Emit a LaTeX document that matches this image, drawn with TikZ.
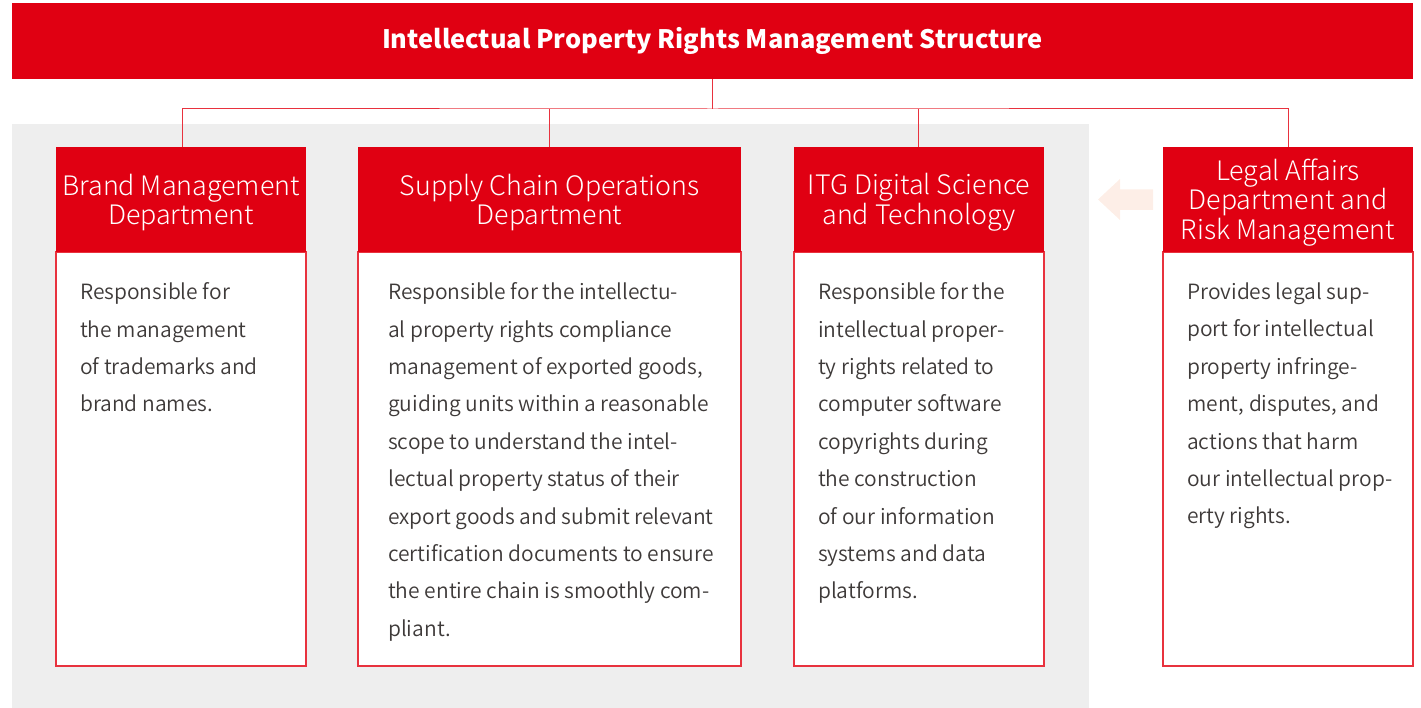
\documentclass[tikz,border=0pt]{standalone}
\usepackage{fontspec}
\setmainfont{Noto Sans CJK SC}
\newfontfamily\lightfont{Noto Sans CJK SC}[UprightFont={* Light}]
\newfontfamily\demifont{Noto Sans CJK SC}[UprightFont={* DemiLight}]
\usetikzlibrary{positioning}
\definecolor{cred}{HTML}{E00012}
\definecolor{cline}{HTML}{E8323E}
\definecolor{cgray}{HTML}{EEEEEE}
\definecolor{carrow}{HTML}{FDEEE7}
\definecolor{ctext}{HTML}{3E3A39}
\tikzset{
  x=1pt, y=-1pt,
  headbox/.style={fill=cred, draw=none, inner sep=0pt, minimum height=105pt},
  headtext/.style={inner sep=0pt, text=white, align=center, font=\lightfont\fontsize{26.8}{29.5}\selectfont},
  bodybox/.style={draw=cline, line width=1.2pt, fill=white},
  bodytext/.style={anchor=north west, inner sep=0pt, align=left, text=ctext, font=\demifont\fontsize{21}{37.4}\selectfont},
  conn/.style={draw=cline, line width=1pt},
}
\begin{document}
\begin{tikzpicture}
\useasboundingbox (0,0) rectangle (1421,708);
\fill[cgray] (12,124) rectangle (1089,708);
% title
\node[fill=cred, minimum width=1401pt, minimum height=76pt, inner sep=0pt, text=white, font=\fontsize{25.4}{30}\selectfont\bfseries] (title) at (712.5,41) {Intellectual Property Rights Management Structure};
% body boxes
\draw[bodybox] (56,252) rectangle (306,666);
\draw[bodybox] (358,252) rectangle (741,666);
\draw[bodybox] (794,252) rectangle (1044,666);
\draw[bodybox] (1163,252) rectangle (1413,666);
% headers
\node[headbox, minimum width=250pt] (h1) at (181,199.5) {};
\node[headbox, minimum width=383pt] (h2) at (549.5,199.5) {};
\node[headbox, minimum width=250pt] (h3) at (919,199.5) {};
\node[headbox, minimum width=250pt] (h4) at (1288,199.5) {};
\node[headtext] (h1t) at (181,202.5) {Brand Management\\Department};
\node[headtext] (h2t) at (549.5,202.5) {Supply Chain Operations\\Department};
\node[headtext] (h3t) at (919,202.5) {ITG Digital Science\\and Technology};
\node[headtext] (h4t) at (1288,202.5) {Legal Affairs\\Department and\\Risk Management};
% connectors
\coordinate (hub) at (712.5,109);
\draw[conn] (title.south) -- (hub);
\draw[conn] ([xshift=1pt]h1.north) |- (hub) -| (h4.north);
\draw[conn] (h2.north) -- (h2.north |- hub);
\draw[conn] ([xshift=-1pt]h3.north) -- ([xshift=-1pt]h3.north |- hub);
% arrow
\fill[carrow] (1098,199.5) -- (1120,179) -- (1120,189.5) -- (1153,189.5) -- (1153,210) -- (1120,210) -- (1120,220) -- cycle;
% body texts
\node[bodytext] (t1) at (80,282.5) {Responsible for\\the management\\of trademarks and\\brand names.};
\node[bodytext] (t2) at (388,282.5) {Responsible for the intellectu-\\al property rights compliance\\management of exported goods,\\guiding units within a reasonable\\scope to understand the intel-\\lectual property status of their\\export goods and submit relevant\\certification documents to ensure\\the entire chain is smoothly com-\\pliant.};
\node[bodytext] (t3) at (818,282.5) {Responsible for the\\intellectual proper-\\ty rights related to\\computer software\\copyrights during\\the construction\\of our information\\systems and data\\platforms.};
\node[bodytext] (t4) at (1187,282.5) {Provides legal sup-\\port for intellectual\\property infringe-\\ment, disputes, and\\actions that harm\\our intellectual prop-\\erty rights.};
\end{tikzpicture}
\end{document}
